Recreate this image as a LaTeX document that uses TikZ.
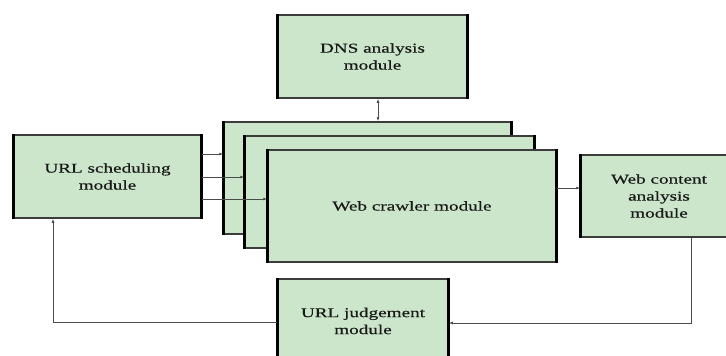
\documentclass[tikz,border=0pt]{standalone}
\usepackage{fontspec}
\newfontfamily\lab[FakeStretch=1.42,FakeBold=0.4]{Liberation Serif}
\usetikzlibrary{arrows.meta}
\definecolor{boxfill}{RGB}{204,230,204}
\definecolor{edgecol}{RGB}{60,60,60}
\tikzset{
  modbox/.style={draw=edgecol, line width=1.5pt, fill=boxfill, inner sep=0pt,
    font=\lab\fontsize{13.5}{17}\selectfont, text=black!90, align=center},
  sideline/.style={line width=2.6pt, black},
  conn/.style={draw=black!70, line width=0.8pt},
  arr/.style={conn, -{Latex[length=4pt,width=3pt]}},
  darr/.style={conn, {Latex[length=4pt,width=3pt]}-{Latex[length=4pt,width=3pt]}}
}
\newcommand{\sides}[1]{\draw[sideline] (#1.north west) -- (#1.south west) (#1.north east) -- (#1.south east);}
\begin{document}
\begin{tikzpicture}[x=1pt,y=-1pt]
\useasboundingbox (0,0) rectangle (726,356);
\clip (0,0) rectangle (726,356);
\fill[white] (0,0) rectangle (726,356);
% DNS
\node[modbox, minimum width=189pt, minimum height=83pt] (dns) at (372.5,56.5) {DNS analysis\\module};
\sides{dns}
% URL scheduling
\node[modbox, minimum width=187pt, minimum height=83pt] (sched) at (107.5,176.5) {URL scheduling\\module};
\sides{sched}
% crawler stack
\node[modbox, minimum width=287pt, minimum height=112pt] (c1) at (367.5,178) {};
\sides{c1}
\node[modbox, minimum width=289pt, minimum height=112pt] (c2) at (389.5,192) {};
\sides{c2}
\node[modbox, minimum width=288pt, minimum height=112pt] (c3) at (412,206) {Web crawler module};
\sides{c3}
% Web content
\node[modbox, minimum width=156pt, minimum height=82pt] (web) at (659,196) {Web content\\analysis\\module};
\sides{web}
% URL judgement
\node[modbox, minimum width=170pt, minimum height=84pt] (judge) at (363,321) {URL judgement\\module};
\sides{judge}
% connectors
\draw[darr] (dns.south -| 378,0) -- (c1.north -| 378,0);
\draw[arr] (sched.east |- 0,154) -- (c1.west |- 0,154);
\draw[arr] (sched.east |- 0,177) -- (c2.west |- 0,177);
\draw[arr] (sched.east |- 0,199) -- (c3.west |- 0,199);
\draw[arr] (c3.east |- 0,188) -- (web.west |- 0,188);
\coordinate (wc) at (691,323);
\draw[arr] (web.south -| wc) -- (wc) -- (judge.east |- wc);
\coordinate (lc) at (53,322);
\draw[arr] (judge.west |- lc) -- (lc) -- (sched.south -| lc);
\end{tikzpicture}
\end{document}
